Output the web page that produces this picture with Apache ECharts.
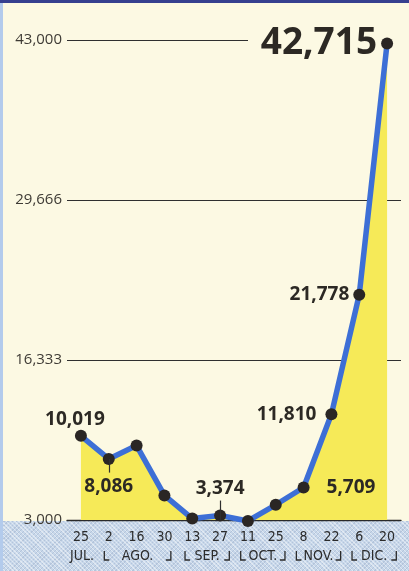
<!DOCTYPE html>
<html>
<head>
<meta charset="utf-8">
<script src="https://cdn.jsdelivr.net/npm/echarts@6/dist/echarts.min.js"></script>
<style>
html,body{margin:0;padding:0;}
#chart{
  width:409px;height:571px;
  background:
    linear-gradient(#36408f,#36408f) top left/100% 3px no-repeat,
    linear-gradient(#b3cbec,#b3cbec) top left/3px 100% no-repeat,
    linear-gradient(#fcf9e3,#fcf9e3) top left/100% 521px no-repeat,
    repeating-linear-gradient(45deg, rgba(255,255,255,.45) 0 1px, transparent 1px 3px),
    repeating-linear-gradient(-45deg, rgba(110,130,165,.22) 0 1px, transparent 1px 3px),
    #c7d7ea;
}
</style>
</head>
<body>
<div id="chart"></div>
<script>
// ---- data ----
const days = ['25','2','16','30','13','27','11','25','8','22','6','20'];
const values = [10019, 8086, 9200, 5050, 3120, 3374, 2920, 4270, 5709, 11810, 21778, 42715];
const monthNames = ['JUL.','AGO.','SEP.','OCT.','NOV.','DIC.'];
const monthStart = [0, 1, 4, 6, 8, 10];
const monthEnd   = [0, 3, 5, 7, 9, 11];
const yTickValues = [3000, 16333, 29666, 43000];

// ---- styling / build ----
const Y_MIN = yTickValues[0], Y_MAX = yTickValues[yTickValues.length - 1];
const numFont = '"Open Sans", "Liberation Sans", sans-serif';
const narrowFont = '"Liberation Sans Narrow", "DejaVu Sans Condensed", "Liberation Sans", sans-serif';
const ink = '#2c2924';
const fmt = v => v.toLocaleString('en-US');

// which points get a label, and where
const labelSpec = {
  0:  {position:'top', distance:1, offset:[-6,0]},
  1:  {position:'bottom', distance:12},
  5:  {position:'top', distance:11},
  8:  {position:'right', distance:17},
  9:  {position:'left', distance:9},
  10: {position:'left', distance:4},
  11: {position:'left', distance:4, fontSize:37}
};

const seriesData = values.map((v, i) => {
  const s = labelSpec[i];
  const item = {value: v};
  if (s) {
    item.label = {
      show: true, position: s.position, distance: s.distance, offset: s.offset || [0,0],
      formatter: fmt(v), fontFamily: numFont, fontWeight: 'bold',
      fontSize: s.fontSize || 19, color: ink
    };
  }
  return item;
});

const leaders = [
  [{coord:[1, values[1]]}, {coord:[1, 6950]}],
  [{coord:[5, Y_MIN]}, {coord:[5, 4620]}]
];

const chart = echarts.init(document.getElementById('chart'), null, {renderer:'canvas'});
chart.setOption({
  animation: false,
  grid: {left: 67, right: 8, top: 40, bottom: 51},
  xAxis: {
    type: 'category',
    data: days,
    boundaryGap: true,
    axisLine: {lineStyle: {color: '#2a2a2a', width: 1.4}},
    axisTick: {inside: true, length: 8, interval: 0, lineStyle: {color: '#2a2a2a', width: 1.2}},
    axisLabel: {interval: 0, margin: 10, fontFamily: narrowFont, fontSize: 14, color: '#2b2b2b'},
    splitLine: {show: false}
  },
  yAxis: {
    type: 'value',
    min: Y_MIN, max: Y_MAX,
    interval: (Y_MAX - Y_MIN) / 3,
    axisLine: {show: false},
    axisTick: {show: false},
    axisLabel: {
      margin: 5, fontFamily: numFont, fontSize: 15, color: '#3e3b35',
      formatter: function (val) {
        for (const t of yTickValues) if (Math.abs(t - val) < 1) return fmt(t);
        return '';
      }
    },
    splitLine: {show: true, showMinLine: false, showMaxLine: false, lineStyle: {color: '#2f2f2f', width: 1.2}}
  },
  series: [
    {
      type: 'line',
      data: seriesData,
      clip: false,
      symbol: 'circle',
      symbolSize: 12,
      itemStyle: {color: '#2a2624'},
      lineStyle: {color: '#3d6fd6', width: 5.5},
      areaStyle: {color: '#f6ea58', opacity: 1, origin: 'start'},
      z: 3,
      markLine: {
        silent: true,
        symbol: 'none',
        label: {show: false},
        lineStyle: {color: '#2f2f2f', width: 1.2, type: 'solid'},
        data: leaders.concat([
          [{coord:[0, Y_MAX], x: 67}, {coord:[0, Y_MAX], x: 248}]
        ])
      }
    },
    {
      type: 'custom',
      silent: true,
      data: monthNames.map((m, i) => [monthStart[i], monthEnd[i]]),
      encode: {x: [0, 1]},
      renderItem: function (params, api) {
        const s = api.value(0), e = api.value(1);
        const a = api.coord([s, Y_MIN]), b = api.coord([e, Y_MIN]);
        const cw = api.size([1, 0])[0];
        const y = a[1] + 36;
        const cx = (a[0] + b[0]) / 2 + 1;
        const children = [{
          type: 'text',
          style: {text: monthNames[params.dataIndex], x: cx, y: y, align: 'center', verticalAlign: 'middle',
                  font: '14px ' + narrowFont, fill: '#2b2b2b'}
        }];
        if (e > s) {
          const half = 11 + (e - s) * cw * 0.4;
          const top = y - 5, bot = y + 4;
          const st = {stroke: '#2b2b2b', lineWidth: 1.3, fill: null};
          children.push({type: 'polyline', shape: {points: [[cx - half, top], [cx - half, bot], [cx - half + 5, bot]]}, style: st});
          children.push({type: 'polyline', shape: {points: [[cx + half - 5, bot], [cx + half, bot], [cx + half, top]]}, style: st});
        }
        return {type: 'group', children: children};
      }
    }
  ]
});
</script>
</body>
</html>
